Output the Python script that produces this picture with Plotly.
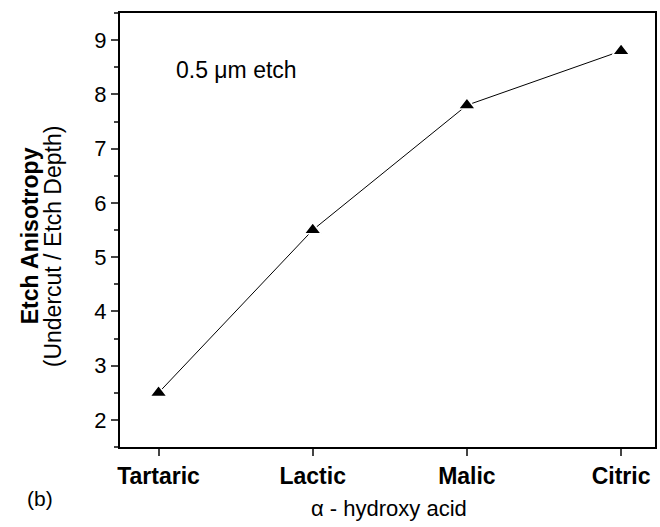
import plotly.graph_objects as go

categories = ["Tartaric", "Lactic", "Malic", "Citric"]
anisotropy = [2.5, 5.5, 7.8, 8.8]
y_ticks = [2, 3, 4, 5, 6, 7, 8, 9]

FONT = "Arial, Liberation Sans, sans-serif"
x_idx = list(range(len(categories)))

fig = go.Figure()
fig.add_trace(go.Scatter(
    x=x_idx, y=anisotropy, mode="lines+markers",
    line=dict(color="black", width=1),
    marker=dict(symbol="triangle-up", size=15, color="black",
                line=dict(color="white", width=1.5)),
    showlegend=False, cliponaxis=False,
))

fig.update_layout(
    width=660, height=527,
    margin=dict(l=120, r=3, t=13, b=80),
    paper_bgcolor="white", plot_bgcolor="white",
    font=dict(family=FONT, color="black"),
    xaxis=dict(
        range=[-0.25, 3.22], tickmode="array", tickvals=x_idx,
        ticktext=["<b>%s</b>" % c for c in categories],
        tickfont=dict(size=23), ticks="outside", ticklen=7, tickwidth=2,
        showline=True, linewidth=2, linecolor="black", mirror=True,
        showgrid=False, zeroline=False,
    ),
    yaxis=dict(
        range=[1.5, 9.5], tickmode="array", tickvals=y_ticks,
        tickfont=dict(size=22), ticks="outside", ticklen=7, tickwidth=2,
        minor=dict(ticks="outside", ticklen=4, tickwidth=2, dtick=0.5, showgrid=False),
        showline=True, linewidth=2, linecolor="black", mirror=True,
        showgrid=False, zeroline=False,
    ),
    annotations=[
        dict(text="0.5 \u03bcm etch", x=174, y=70, showarrow=False,
             font=dict(size=23), xanchor="left", yanchor="middle"),
        dict(text="\u03b1 - hydroxy acid", x=390, y=508, showarrow=False,
             font=dict(size=22), xanchor="center", yanchor="middle"),
        dict(text="(b)", x=40, y=498, showarrow=False,
             font=dict(size=21), xanchor="center", yanchor="middle"),
        dict(text="<b>Etch Anisotropy</b>", x=30, y=236, showarrow=False,
             textangle=-90, font=dict(size=23), xanchor="center", yanchor="middle"),
        dict(text="(Undercut / Etch Depth)", x=53, y=246, showarrow=False,
             textangle=-90, font=dict(size=23), xanchor="center", yanchor="middle"),
    ],
)

# convert pixel-based annotation positions into paper coordinates
L, R, T, B = 120, 3, 13, 80
pw, ph = 660 - L - R, 527 - T - B
for a in fig.layout.annotations:
    a.xref = "paper"; a.yref = "paper"
    a.x = (a.x - L) / pw
    a.y = 1 - (a.y - T) / ph

fig.write_html("out.html")
